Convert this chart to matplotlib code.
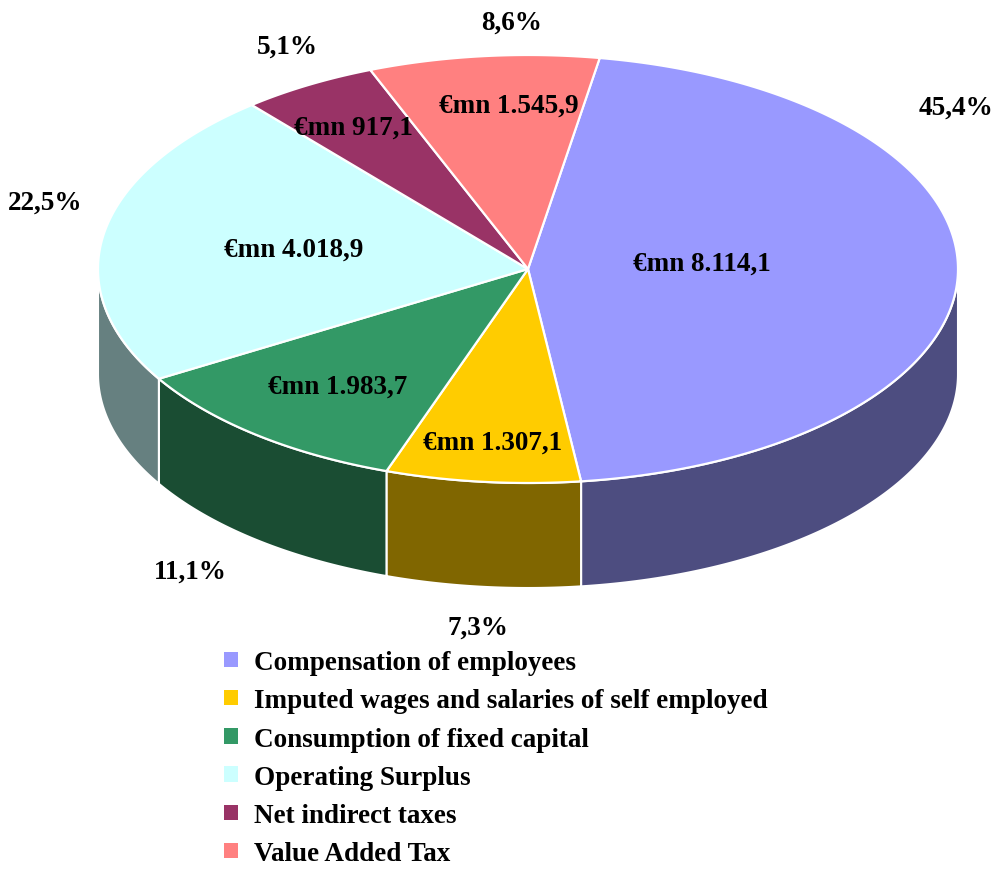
import numpy as np
import matplotlib.pyplot as plt
from matplotlib.patches import Polygon, Patch
from matplotlib.colors import to_rgb

categories = ['Compensation of employees',
              'Imputed wages and salaries of self employed',
              'Consumption of fixed capital',
              'Operating Surplus',
              'Net indirect taxes',
              'Value Added Tax']
values = [8114.1, 1307.1, 1983.7, 4018.9, 917.1, 1545.9]
colors = ['#9999FF', '#FFCC00', '#339966', '#CCFFFF', '#993366', '#FF8080']

plt.rcParams['font.family'] = ['Liberation Serif', 'DejaVu Serif']
plt.rcParams['font.weight'] = 'bold'
FS = 19.5

def eu(v, nd=1):
    s = f"{v:,.{nd}f}"
    return s.replace(',', 'X').replace('.', ',').replace('X', '.')

# pie geometry in pixel space (y down)
cx, cy = 528, 270
rx, ry = 430, 214
depth = 105
start = 80.4
# label anchor positions (pixels)
val_pos = [(702, 264), (493, 443), (338, 387), (294, 250), (353, 128), (509, 106)]
pct_pos = [(956, 108), (478, 628), (190, 572), (45, 203), (287, 47), (512, 23)]

fig = plt.figure(figsize=(9.96, 8.70), dpi=100)
ax = fig.add_axes([0, 0, 1, 1])
ax.set_xlim(0, 996)
ax.set_ylim(870, 0)
ax.axis('off')

def arc(a1, a2, n=200, dy=0.0):
    a = np.radians(np.linspace(a1, a2, n))
    return np.column_stack([cx + rx * np.cos(a), cy - ry * np.sin(a) + dy])

total = sum(values)
fracs = [v / total for v in values]
cum = np.concatenate([[0], np.cumsum(fracs)])
t1s = start - cum[:-1] * 360
t2s = start - cum[1:] * 360

# side walls (front half only: angles between -180 and 0)
for t1, t2, c in zip(t1s, t2s, colors):
    a = min(t1, 0)
    b = max(t2, -180)
    if a <= b:
        continue
    top = arc(a, b)
    bot = arc(b, a, dy=depth)
    side = tuple(np.array(to_rgb(c)) * 0.5)
    ax.add_patch(Polygon(np.vstack([top, bot]), closed=True, facecolor=side,
                         edgecolor='white', linewidth=1.5, zorder=1))

# top faces
for t1, t2, c in zip(t1s, t2s, colors):
    pts = np.vstack([[cx, cy], arc(t1, t2)])
    ax.add_patch(Polygon(pts, closed=True, facecolor=c, edgecolor='white',
                         linewidth=1.6, joinstyle='round', zorder=2))

# value labels inside slices
for v, (x, y) in zip(values, val_pos):
    ax.text(x, y, f"€mn {eu(v)}", ha='center', va='center', fontsize=FS,
            fontweight='bold', zorder=3)

# percentage labels
for f, (x, y) in zip(fracs, pct_pos):
    ax.text(x, y, f"{eu(f * 100)}%", ha='center', va='center', fontsize=FS,
            fontweight='bold', zorder=3)

handles = [Patch(facecolor=c, edgecolor='none') for c in colors]
fig.legend(handles, categories, loc='upper left',
           bbox_to_anchor=(224 / 996, 1 - 651 / 870), frameon=False,
           prop={'family': 'Liberation Serif', 'weight': 'bold', 'size': FS},
           handlelength=0.5, handleheight=0.5, handletextpad=0.62,
           labelspacing=0.49, borderpad=0, borderaxespad=0)

fig.savefig('out.png', dpi=100, facecolor='white')
